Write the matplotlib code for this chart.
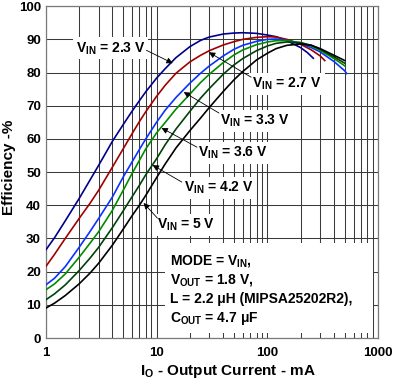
import numpy as np
import matplotlib
matplotlib.use("Agg")
import matplotlib.pyplot as plt
from matplotlib.ticker import LogLocator, NullFormatter
from matplotlib.patches import Rectangle

plt.rcParams['font.family'] = ['Liberation Sans', 'DejaVu Sans']
plt.rcParams['font.weight'] = 'bold'
plt.rcParams['mathtext.fontset'] = 'custom'
plt.rcParams['mathtext.rm'] = 'Liberation Sans:bold'
plt.rcParams['mathtext.it'] = 'Liberation Sans:bold'
plt.rcParams['mathtext.bf'] = 'Liberation Sans:bold'
plt.rcParams['mathtext.sf'] = 'Liberation Sans:bold'
plt.rcParams['mathtext.default'] = 'rm'

# output current (mA), shared low part of every sweep
cur_base = [1, 1.2, 1.5, 2, 2.5, 3, 4, 5, 6, 7, 8, 10, 12, 15, 20, 25, 30,
            40, 50, 60, 80, 100, 120, 150, 200]

cur_23 = cur_base + [230, 260]
eff_23 = [26.5, 30.2, 35.3, 42, 47.5, 52, 59.3, 64.3, 68.3, 71.5, 74.2, 78.3,
          81.2, 84.5, 87.8, 89.7, 90.7, 91.6, 91.9, 92, 91.8, 91.3, 90.8,
          89.6, 87.5, 86, 84.3]

cur_27 = cur_base + [250, 300, 330]
eff_27 = [21.5, 25.2, 30, 36, 40.5, 44.5, 51.5, 57, 61.5, 65.2, 68.2, 72.8,
          76.2, 79.8, 83.2, 85.2, 86.6, 88.3, 89.3, 90, 90.6, 90.8, 90.7, 90,
          88.5, 86.8, 85, 83.6]

cur_33 = cur_base + [250, 300, 400, 500, 520]
eff_33 = [16, 18, 21.5, 27.3, 32, 36, 42.5, 48.5, 53, 56.8, 60, 65, 68.7,
          72.5, 76.8, 79.8, 82, 85, 87, 88.2, 89.4, 90, 90.1, 89.7, 88.7,
          87.5, 86.2, 83.3, 80.5, 79.7]

cur_36 = cur_base + [250, 300, 400, 500]
eff_36 = [14.5, 16.3, 19.3, 24.3, 28.5, 32, 38.5, 44.5, 49.5, 53.5, 57, 61.8,
          65, 69, 73.5, 77, 79.5, 83, 85.3, 86.8, 88.4, 89.2, 89.6, 89.6, 89,
          88, 86.7, 84.2, 82]

cur_42 = cur_base + [250, 300, 400, 500]
eff_42 = [11.5, 13.3, 16, 20.3, 24, 27.3, 33.3, 38.3, 42.5, 46, 49.2, 54,
          58.3, 63, 68.3, 72.3, 75.2, 79.5, 82.3, 84.2, 86.6, 88, 88.8, 89.2,
          89, 88.2, 87, 84.7, 82.8]

cur_50 = cur_base + [250, 300, 400, 500]
eff_50 = [9, 10.5, 12.8, 16.3, 19.5, 22.5, 28, 32.8, 36.8, 40, 43, 48.3,
          52.5, 57.3, 62.5, 66.3, 69.5, 74.3, 77.8, 80.3, 83.8, 85.8, 87.2,
          88.2, 88.6, 88.2, 87.2, 85.2, 83.6]

series = [
    (cur_23, eff_23, '#00008c'),
    (cur_27, eff_27, '#a00000'),
    (cur_33, eff_33, '#0a32ff'),
    (cur_36, eff_36, '#008c00'),
    (cur_42, eff_42, '#00420a'),
    (cur_50, eff_50, '#000000'),
]

# label text, text anchor (I, eff), alignment, arrow tail, arrow tip
labels = [
    (r'$V_{IN}$ = 2.3 V', (7.96, 87.3), 'right', (8.1, 86.7), (14.0, 82.8)),
    (r'$V_{IN}$ = 2.7 V', (72.9, 76.5), 'left', (71.4, 78.6), (29.7, 86.1)),
    (r'$V_{IN}$ = 3.3 V', (37.4, 65.4), 'left', (36.6, 67.8), (17.6, 74.1)),
    (r'$V_{IN}$ = 3.6 V', (23.6, 55.7), 'left', (23.2, 57.5), (11.1, 63.3)),
    (r'$V_{IN}$ = 4.2 V', (17.6, 45.2), 'left', (16.9, 47.0), (9.22, 52.1)),
    (r'$V_{IN}$ = 5 V', (10.2, 34.0), 'left', (10.2, 36.1), (7.64, 40.7)),
]

note_lines = [r'MODE = $V_{IN}$,', r'$V_{OUT}$ = 1.8 V,',
              'L = 2.2 μH (MIPSA25202R2),', r'$C_{OUT}$ = 4.7 μF']

fig = plt.figure(figsize=(4.01, 3.85), dpi=100)
ax = fig.add_axes([0.114, 0.122, 0.829, 0.862])

for cur, eff, col in series:
    ax.plot(cur, eff, color=col, lw=1.2, zorder=3)

ax.set_xscale('log')
ax.set_xlim(1, 1000)
ax.set_ylim(0, 100)
ax.set_xticks([1, 10, 100, 1000])
ax.set_xticklabels(['1', '10', '100', '1000'])
ax.xaxis.set_minor_locator(LogLocator(base=10, subs=range(2, 10)))
ax.xaxis.set_minor_formatter(NullFormatter())
ax.set_yticks(range(0, 101, 10))
ax.tick_params(which='both', length=0, labelsize=9.5)
ax.tick_params(axis='x', pad=6.5)
ax.tick_params(axis='y', pad=3.5)
ax.set_axisbelow(True)
ax.grid(which='both', color='#3a3a3a', lw=0.75)
for sp in ax.spines.values():
    sp.set_color('#7a7a7a')
    sp.set_linewidth(0.9)

for txt, pos, ha, tail, tip in labels:
    ax.text(pos[0], pos[1], txt, ha=ha, va='center', fontsize=10,
            fontweight='bold', zorder=4,
            bbox=dict(facecolor='white', edgecolor='none', pad=2))
    ax.annotate('', xy=tip, xytext=tail, zorder=5,
                arrowprops=dict(arrowstyle='-|>', color='black', lw=0.6,
                                mutation_scale=9, shrinkA=0, shrinkB=0))

ax.add_patch(Rectangle((0.359, 0.015), 0.626, 0.271, transform=ax.transAxes,
                       facecolor='white', edgecolor='none', zorder=2))
for k, line in enumerate(note_lines):
    ax.text(0.374, 0.223 - k * 0.058, line, transform=ax.transAxes,
            ha='left', va='baseline', fontsize=10, fontweight='bold', zorder=4)

fig.text(140 / 401, 1 - 372 / 385, r'$I_{O}$ - Output Current - mA',
         ha='left', va='center', fontsize=11, fontweight='bold')
fig.text(9 / 401, 1 - 167 / 385, 'Efficiency -%', rotation=90,
         ha='center', va='center', fontsize=11, fontweight='bold')

fig.savefig('out.png', dpi=100)
